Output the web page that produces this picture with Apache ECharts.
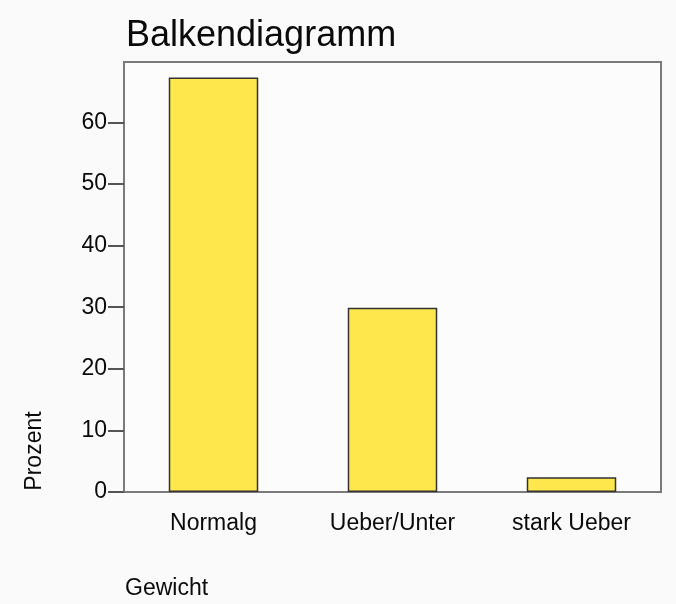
<!DOCTYPE html>
<html>
<head>
<meta charset="utf-8">
<script src="https://cdn.jsdelivr.net/npm/echarts@6/dist/echarts.min.js"></script>
<style>
  html, body { margin: 0; padding: 0; background: #fafafa; }
  #chart { width: 676px; height: 604px; }
</style>
</head>
<body>
<div id="chart"></div>
<script>
// Gewicht categories and their percentages
const categories = ["Normalg", "Ueber/Unter", "stark Ueber"];
const prozent = [67.3, 29.9, 2.4];
const yMax = 69.8;

const font = "Liberation Sans";

const chart = echarts.init(document.getElementById("chart"));
chart.setOption({
    backgroundColor: "#fafafa",
    animation: false,
    title: {
        text: "Balkendiagramm",
        left: 121,
        top: 13,
        textStyle: { fontFamily: font, fontSize: 36, fontWeight: "normal", color: "#0a0a0a" },
    },
    grid: {
        left: 124, right: 15, top: 62, bottom: 112,
        show: true,
        backgroundColor: "#fcfcfc",
        borderColor: "#7a7a7a",
        borderWidth: 2,
    },
    xAxis: {
        type: "category",
        data: categories,
        axisLine: { lineStyle: { color: "#7a7a7a", width: 2 } },
        axisTick: { alignWithLabel: true, length: 16, lineStyle: { color: "#555", width: 2 } },
        axisLabel: { margin: 20, fontFamily: font, fontSize: 23, color: "#0a0a0a" },
    },
    yAxis: {
        type: "value",
        min: 0,
        max: yMax,
        interval: 10,
        splitLine: { show: false },
        axisLine: { show: true, lineStyle: { color: "#7a7a7a", width: 2 } },
        axisTick: { show: true, length: 16, lineStyle: { color: "#555", width: 2 } },
        axisLabel: { margin: 17, fontFamily: font, fontSize: 23, color: "#0a0a0a", showMaxLabel: false },
    },
    series: [
        {
            type: "bar",
            data: prozent,
            barWidth: "50%",
            itemStyle: { color: "#fde74c", borderColor: "#333", borderWidth: 1.5 },
        },
    ],
    graphic: [
        {
            type: "text",
            x: 35,
            y: 451,
            rotation: Math.PI / 2,
            style: {
                text: "Prozent",
                fontFamily: font,
                fontSize: 23,
                fill: "#0a0a0a",
                align: "center",
                verticalAlign: "middle",
            },
        },
        {
            type: "text",
            x: 125,
            y: 577,
            style: {
                text: "Gewicht",
                fontFamily: font,
                fontSize: 23,
                fill: "#0a0a0a",
            },
        },
    ],
});
</script>
</body>
</html>
